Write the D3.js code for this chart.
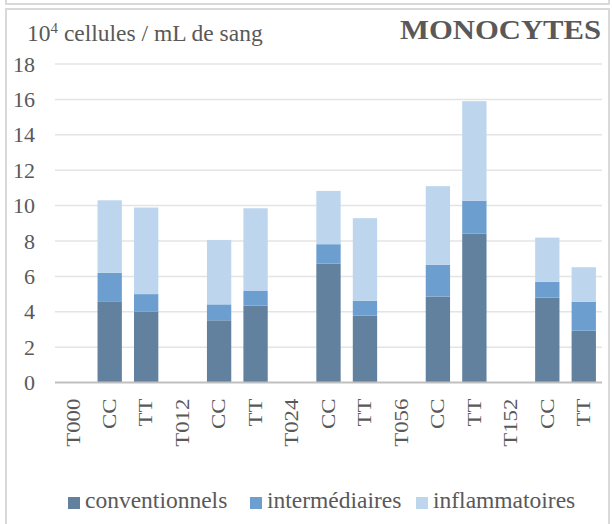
<!DOCTYPE html>
<html>
<head>
<meta charset="utf-8">
<script src="https://cdn.jsdelivr.net/npm/d3@7"></script>
</head>
<body style="margin:0;background:#fff">
<svg id="fig" width="612" height="524"></svg>
<script>
// Category axis: time points (no bars) followed by their CC / TT groups
const categories = ["T000", "CC", "TT", "T012", "CC", "TT", "T024", "CC", "TT", "T056", "CC", "TT", "T152", "CC", "TT"];
const seriesNames = ["conventionnels", "intermédiaires", "inflammatoires"];
const seriesColors = ["#61819f", "#6c9fd0", "#bdd6ee"];
// Stacked values (10^4 cells / mL of blood); null where there is no bar
const conventionnels = [null, 4.56, 4.02, null, 3.52, 4.35, null, 6.72, 3.78, null, 4.86, 8.42, null, 4.80, 2.93];
const intermediaires = [null, 1.65, 0.98, null, 0.90, 0.85, null, 1.10, 0.85, null, 1.79, 1.86, null, 0.89, 1.63];
const inflammatoires = [null, 4.09, 4.89, null, 3.64, 4.65, null, 3.01, 4.66, null, 4.45, 5.62, null, 2.50, 1.96];
const yTicks = [0, 2, 4, 6, 8, 10, 12, 14, 16, 18];

const FONT = "Liberation Serif";
const svg = d3.select("#fig");
const grey = "#595959";
const serif = sel => sel.style("font-family", FONT, "important");

// Chart frames
svg.append("rect").attr("x", 6).attr("y", -20).attr("width", 603).attr("height", 24)
  .attr("fill", "#fff").attr("stroke", "#d9d9d9").attr("stroke-width", 2);
svg.append("rect").attr("x", 6).attr("y", 9).attr("width", 603).attr("height", 530)
  .attr("fill", "#fff").attr("stroke", "#d9d9d9").attr("stroke-width", 2);

const x = d3.scaleBand().domain(d3.range(categories.length)).range([55, 602])
  .paddingInner(0.333).paddingOuter(0.1665);
const y = d3.scaleLinear().domain([0, 18]).range([382.6, 64]);

// Horizontal gridlines
svg.append("g").selectAll("line").data(yTicks.filter(d => d > 0)).join("line")
  .attr("x1", 55).attr("x2", 602)
  .attr("y1", d => y(d)).attr("y2", d => y(d))
  .attr("stroke", "#e4e4e4").attr("stroke-width", 1.5);

// Y axis tick labels
const yAxis = d3.axisLeft(y).tickValues(yTicks).tickSize(0).tickPadding(0);
const gy = svg.append("g").attr("transform", "translate(35,0)").call(yAxis);
gy.attr("font-family", FONT);
gy.select(".domain").remove();
gy.selectAll("text").attr("font-size", 22).attr("fill", grey).call(serif);

// Stacked bars
const rows = categories.map((c, i) => ({
  i,
  conventionnels: conventionnels[i] || 0,
  "intermédiaires": intermediaires[i] || 0,
  inflammatoires: inflammatoires[i] || 0
}));
const stack = d3.stack().keys(seriesNames)(rows);
svg.append("g").selectAll("g").data(stack).join("g")
  .attr("fill", (d, k) => seriesColors[k])
  .selectAll("rect").data(d => d.filter(s => s[1] > s[0])).join("rect")
  .attr("x", d => x(d.data.i))
  .attr("width", x.bandwidth())
  .attr("y", d => y(d[1]))
  .attr("height", d => y(d[0]) - y(d[1]));

// Baseline axis with rotated category labels
const xAxis = d3.axisBottom(x).tickSize(0).tickFormat(i => categories[i]);
const gx = svg.append("g").attr("transform", `translate(0,${y(0)})`).call(xAxis);
gx.attr("font-family", FONT);
gx.select(".domain").attr("d", "M55,0H602").attr("stroke", "#bfbfbf").attr("stroke-width", 2);
gx.selectAll("text")
  .attr("font-size", 19).attr("fill", grey).call(serif)
  .attr("text-anchor", "end").attr("dy", "0.33em").attr("y", 0).attr("x", 0)
  .attr("transform", "translate(0,16) rotate(-90) scale(1.2,1)");

// Axis unit label
const unit = svg.append("text").attr("x", 27).attr("y", 41).attr("font-size", 23.5)
  .attr("fill", grey).call(serif);
unit.append("tspan").text("10");
unit.append("tspan").attr("font-size", 15).attr("dy", -8).text("4");
unit.append("tspan").attr("dy", 8).text(" cellules / mL de sang");

// Title
svg.append("text").attr("x", 601).attr("y", 39).attr("text-anchor", "end")
  .attr("font-size", 27).attr("font-weight", "bold").attr("fill", grey).call(serif)
  .attr("textLength", 201).attr("lengthAdjust", "spacingAndGlyphs")
  .text("MONOCYTES");

// Legend
const legendX = [68, 250, 416];
const legend = svg.append("g").selectAll("g").data(seriesNames).join("g")
  .attr("transform", (d, k) => `translate(${legendX[k]},0)`);
legend.append("rect").attr("x", 0).attr("y", 497).attr("width", 12).attr("height", 12)
  .attr("fill", (d, k) => seriesColors[k]);
legend.append("text").attr("x", 17).attr("y", 508).attr("font-size", 23.5).attr("fill", grey)
  .call(serif).text(d => d);
</script>
</body>
</html>
